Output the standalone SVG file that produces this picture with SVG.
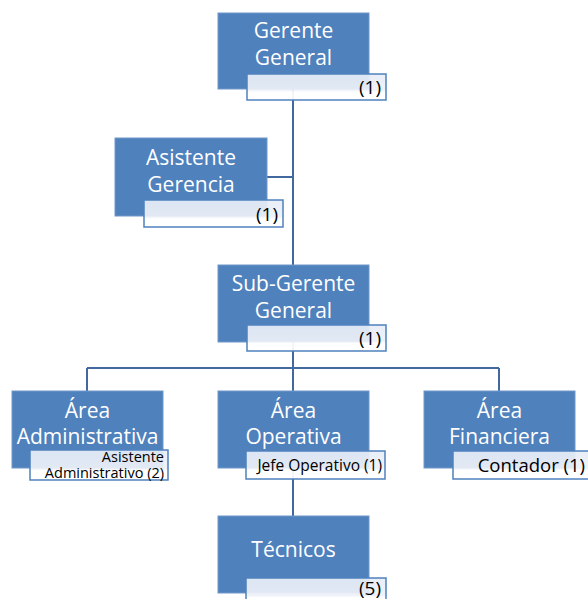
<svg xmlns="http://www.w3.org/2000/svg" width="588" height="599" viewBox="0 0 588 599">
<defs>
<linearGradient id="sg" x1="0" y1="0" x2="0" y2="1">
<stop offset="0" stop-color="#e7edf7"/>
<stop offset="0.62" stop-color="#edf1f8"/>
<stop offset="0.7" stop-color="#ffffff"/>
<stop offset="1" stop-color="#ffffff"/>
</linearGradient>
</defs>
<style>
.box{fill:#4f81bd;stroke:#7097c9;stroke-width:1}
.sub{fill:url(#sg);stroke:#4f81bd;stroke-width:1.5;fill-opacity:0.93}
.lbl{font-family:"Open Sans","Noto Sans",sans-serif;font-size:21px;fill:#ffffff;text-anchor:middle}
.num{font-family:"Open Sans","Noto Sans",sans-serif;font-size:19px;fill:#000000;text-anchor:end}
.con{stroke:#41699f;stroke-width:2;fill:none}
</style>
<rect width="588" height="599" fill="#ffffff"/>
<g id="connectors">
<line class="con" x1="293" y1="89" x2="293" y2="265"/>
<line class="con" x1="267" y1="177" x2="293" y2="177"/>
<line class="con" x1="293" y1="342" x2="293" y2="391"/>
<line class="con" x1="87" y1="368" x2="499" y2="368"/>
<line class="con" x1="87" y1="368" x2="87" y2="391"/>
<line class="con" x1="499" y1="368" x2="499" y2="391"/>
<line class="con" x1="293" y1="468" x2="293" y2="516"/>
</g>
<g id="gerente-general">
<rect class="box" x="218" y="13" width="151" height="76"/>
<text class="lbl" x="293.5" y="38">Gerente</text>
<text class="lbl" x="293.5" y="65">General</text>
<rect class="sub" x="247" y="74" width="139" height="26"/>
<text class="num" x="381" y="94">(1)</text>
</g>
<g id="asistente-gerencia">
<rect class="box" x="115" y="138" width="152" height="78"/>
<text class="lbl" x="191" y="165">Asistente</text>
<text class="lbl" x="191" y="192">Gerencia</text>
<rect class="sub" x="144" y="200" width="139" height="27"/>
<text class="num" x="278" y="221">(1)</text>
</g>
<g id="sub-gerente-general">
<rect class="box" x="218" y="265" width="151" height="77"/>
<text class="lbl" x="293.5" y="291">Sub-Gerente</text>
<text class="lbl" x="293.5" y="318">General</text>
<rect class="sub" x="247" y="325" width="139" height="26"/>
<text class="num" x="381" y="345">(1)</text>
</g>
<g id="area-administrativa">
<rect class="box" x="12" y="391" width="151" height="77"/>
<text class="lbl" x="87.5" y="418">Área</text>
<text class="lbl" x="87.5" y="444">Administrativa</text>
<rect class="sub" x="30" y="450" width="138" height="30"/>
<text class="num" x="164" y="462" style="font-size:14.5px">Asistente</text>
<text class="num" x="164" y="478" style="font-size:14.5px">Administrativo (2)</text>
</g>
<g id="area-operativa">
<rect class="box" x="218" y="391" width="151" height="77"/>
<text class="lbl" x="293.5" y="418">Área</text>
<text class="lbl" x="293.5" y="444">Operativa</text>
<rect class="sub" x="246" y="451" width="139" height="28"/>
<text class="num" x="382" y="471" style="font-size:15.5px">Jefe Operativo (1)</text>
</g>
<g id="area-financiera">
<rect class="box" x="424" y="391" width="151" height="77"/>
<text class="lbl" x="499.5" y="418">Área</text>
<text class="lbl" x="499.5" y="444">Financiera</text>
<rect class="sub" x="453" y="451" width="140" height="28"/>
<text class="num" x="585" y="472" style="font-size:18.5px">Contador (1)</text>
</g>
<g id="tecnicos">
<rect class="box" x="218" y="516" width="151" height="77"/>
<text class="lbl" x="293.5" y="557">Técnicos</text>
<rect class="sub" x="246" y="578" width="140" height="28"/>
<text class="num" x="381" y="595">(5)</text>
</g>
</svg>
